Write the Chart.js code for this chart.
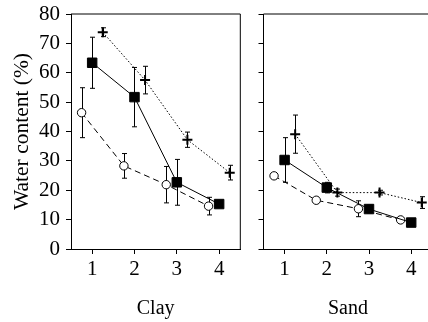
<!DOCTYPE html>
<html>
<head>
<meta charset="utf-8">
<script src="https://cdn.jsdelivr.net/npm/chart.js@4"></script>
<style>
  html, body { margin: 0; padding: 0; background: #fff; overflow: hidden; width: 428px; height: 322px; }
  canvas { position: absolute; top: 0; }
  #clay { left: 0; }
  #sand { left: 244px; }
</style>
</head>
<body>
<canvas id="clay" width="248" height="322"></canvas>
<canvas id="sand" width="196" height="322"></canvas>
<script>
// x positions (stage 1-4, open circles shifted left, crosses shifted right)
const xTicks = [1, 2, 3, 4];
const squareX = [1, 2, 3, 4];
const circleX = [0.75, 1.75, 2.75, 3.75];
const plusX = [1.25, 2.25, 3.25, 4.25];

// Clay panel
const clayFilled = [63.4, 51.7, 22.7, 15.3];
const clayFilledErr = [8.7, 10.1, 7.8, 1.0];
const clayOpen = [46.4, 28.3, 21.9, 14.6];
const clayOpenErr = [8.5, 4.2, 6.2, 3.0];
const clayPlus = [73.8, 57.5, 37.2, 26.0];
const clayPlusErr = [1.5, 4.7, 2.6, 2.5];

// Sand panel
const sandFilled = [30.3, 20.9, 13.6, 9.0];
const sandFilledErr = [7.6, 1.8, 1.3, 0.8];
const sandOpen = [24.9, 16.6, 13.7, 9.9];
const sandOpenErr = [0.8, 0.8, 2.7, 0.6];
const sandPlus = [39.1, 19.2, 19.2, 15.8];
const sandPlusErr = [6.5, 1.2, 0.8, 2.0];

const FONT = "'Liberation Serif', 'DejaVu Serif', serif";

function pts(xs, ys) {
  return xs.map((x, i) => ({ x: x, y: ys[i] }));
}

// error bars + frame, drawn under the markers
const errorBars = {
  id: "errorBars",
  beforeDatasetsDraw(chart) {
    const ctx = chart.ctx;
    const xs = chart.scales.x, ys = chart.scales.y;
    const area = chart.chartArea;
    ctx.save();
    ctx.strokeStyle = "#000";
    ctx.lineWidth = 1;
    ctx.beginPath();
    ctx.moveTo(area.left, area.top);
    ctx.lineTo(area.right, area.top);
    ctx.lineTo(area.right, area.bottom);
    ctx.stroke();
    chart.data.datasets.forEach(ds => {
      if (!ds.errors) return;
      ds.data.forEach((p, i) => {
        const e = ds.errors[i];
        const px = Math.round(xs.getPixelForValue(p.x)) + 0.5;
        const top = ys.getPixelForValue(p.y + e);
        const bot = ys.getPixelForValue(p.y - e);
        ctx.beginPath();
        ctx.moveTo(px, top);
        ctx.lineTo(px, bot);
        ctx.moveTo(px - 2.5, top);
        ctx.lineTo(px + 2.5, top);
        ctx.moveTo(px - 2.5, bot);
        ctx.lineTo(px + 2.5, bot);
        ctx.stroke();
      });
    });
    ctx.restore();
  }
};

function makeDatasets(filled, filledErr, open, openErr, plus, plusErr) {
  return [
    {
      data: pts(squareX, filled), errors: filledErr,
      showLine: true, borderColor: "#000", borderWidth: 1,
      pointStyle: "rect", pointRadius: 6.7,
      pointBackgroundColor: "#000", pointBorderColor: "#000", pointBorderWidth: 1
    },
    {
      data: pts(circleX, open), errors: openErr,
      showLine: true, borderColor: "#000", borderWidth: 1, borderDash: [6, 4],
      pointStyle: "circle", pointRadius: 4.2,
      pointBackgroundColor: "#fff", pointBorderColor: "#000", pointBorderWidth: 1
    },
    {
      data: pts(plusX, plus), errors: plusErr,
      showLine: true, borderColor: "#000", borderWidth: 1, borderDash: [1.5, 2],
      pointStyle: "cross", pointRadius: 5,
      pointBackgroundColor: "#000", pointBorderColor: "#000", pointBorderWidth: 2
    }
  ];
}

function noPad(s) {
  s.paddingLeft = 0;
  s.paddingRight = 0;
  s.paddingTop = 0;
  s.paddingBottom = 0;
}

function makeChart(id, label, datasets, first) {
  return new Chart(document.getElementById(id), {
    type: "scatter",
    data: { datasets: datasets },
    plugins: [errorBars],
    options: {
      responsive: false,
      animation: false,
      devicePixelRatio: 1,
      layout: { padding: { top: 14, right: 1, left: 0, bottom: 0 } },
      plugins: { legend: { display: false }, tooltip: { enabled: false } },
      scales: {
        x: {
          type: "linear",
          min: 0.5,
          max: 4.5,
          afterBuildTicks: s => { s.ticks = xTicks.map(v => ({ value: v })); },
          afterFit: s => { s.height = 73; noPad(s); },
          grid: { drawOnChartArea: false, drawTicks: true, tickLength: 5, color: "#000" },
          border: { color: "#000", width: 1 },
          ticks: { color: "#000", padding: 3, font: { family: FONT, size: 21 } },
          title: {
            display: true, text: label, color: "#000",
            font: { family: FONT, size: 20 }, padding: { top: 0, bottom: 1 }
          }
        },
        y: {
          min: 0,
          max: 80,
          afterFit: s => { s.width = first ? 71 : 19.5; noPad(s); },
          grid: { drawOnChartArea: false, drawTicks: true, tickLength: 5, color: "#000" },
          border: { color: "#000", width: 1 },
          ticks: {
            display: first, stepSize: 10, color: "#000", padding: 6,
            font: { family: FONT, size: 21 }
          },
          title: {
            display: first, text: "Water content (%)", color: "#000",
            font: { family: FONT, size: 21.5 }, padding: { top: 9, bottom: 0 }
          }
        }
      }
    }
  });
}

makeChart("clay", "Clay",
  makeDatasets(clayFilled, clayFilledErr, clayOpen, clayOpenErr, clayPlus, clayPlusErr), true);
makeChart("sand", "Sand",
  makeDatasets(sandFilled, sandFilledErr, sandOpen, sandOpenErr, sandPlus, sandPlusErr), false);
</script>
</body>
</html>
